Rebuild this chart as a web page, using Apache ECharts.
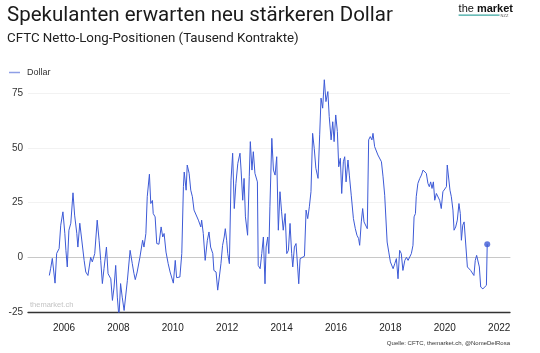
<!DOCTYPE html>
<html>
<head>
<meta charset="utf-8">
<script src="https://cdn.jsdelivr.net/npm/echarts@6/dist/echarts.min.js"></script>
<style>
  html, body { margin: 0; padding: 0; background: #fff; }
  #chart { width: 540px; height: 353px; }
</style>
</head>
<body>
<div id="chart"></div>
<script>
(function () {
    // Dezimaljahre (wöchentliche CFTC-Daten)
    const years = [
        2005.46, 2005.51, 2005.57, 2005.67, 2005.73, 2005.82, 2005.88, 2005.96, 2006.03, 2006.07,
        2006.12, 2006.18, 2006.25, 2006.33, 2006.39, 2006.47, 2006.51, 2006.58, 2006.64, 2006.74,
        2006.80, 2006.88, 2006.98, 2007.04, 2007.13, 2007.22, 2007.29, 2007.35, 2007.41, 2007.47,
        2007.56, 2007.62, 2007.72, 2007.78, 2007.84, 2007.90, 2007.96, 2008.02, 2008.08, 2008.14,
        2008.21, 2008.33, 2008.43, 2008.51, 2008.57, 2008.62, 2008.69, 2008.79, 2008.89, 2008.94,
        2009.01, 2009.06, 2009.14, 2009.19, 2009.25, 2009.28, 2009.35, 2009.41, 2009.49, 2009.57,
        2009.63, 2009.68, 2009.75, 2009.83, 2009.90, 2009.96, 2010.02, 2010.09, 2010.14, 2010.26,
        2010.33, 2010.39, 2010.42, 2010.49, 2010.53, 2010.60, 2010.66, 2010.72, 2010.78, 2010.85,
        2010.94, 2011.03, 2011.06, 2011.12, 2011.19, 2011.27, 2011.33, 2011.39, 2011.47, 2011.51,
        2011.59, 2011.65, 2011.71, 2011.77, 2011.83, 2011.89, 2011.93, 2011.98, 2012.02, 2012.08,
        2012.14, 2012.20, 2012.26, 2012.32, 2012.39, 2012.47, 2012.51, 2012.57, 2012.62, 2012.67,
        2012.75, 2012.81, 2012.85, 2012.91, 2012.96, 2013.02, 2013.11, 2013.14, 2013.21, 2013.27,
        2013.33, 2013.39, 2013.43, 2013.49, 2013.53, 2013.57, 2013.64, 2013.70, 2013.76, 2013.82,
        2013.88, 2013.94, 2014.00, 2014.06, 2014.13, 2014.19, 2014.25, 2014.31, 2014.37, 2014.41,
        2014.47, 2014.53, 2014.59, 2014.63, 2014.68, 2014.74, 2014.84, 2014.90, 2014.96, 2015.02,
        2015.08, 2015.14, 2015.20, 2015.26, 2015.34, 2015.40, 2015.45, 2015.51, 2015.57, 2015.63,
        2015.70, 2015.75, 2015.82, 2015.88, 2015.93, 2015.99, 2016.05, 2016.10, 2016.16, 2016.21,
        2016.27, 2016.32, 2016.37, 2016.44, 2016.49, 2016.56, 2016.64, 2016.71, 2016.77, 2016.83,
        2016.87, 2016.93, 2016.98, 2017.03, 2017.10, 2017.15, 2017.20, 2017.26, 2017.32, 2017.36,
        2017.42, 2017.47, 2017.54, 2017.61, 2017.67, 2017.73, 2017.79, 2017.88, 2017.94, 2018.00,
        2018.10, 2018.16, 2018.22, 2018.28, 2018.34, 2018.40, 2018.46, 2018.53, 2018.59, 2018.65,
        2018.71, 2018.77, 2018.83, 2018.87, 2018.92, 2018.95, 2019.01, 2019.08, 2019.14, 2019.20,
        2019.26, 2019.32, 2019.38, 2019.43, 2019.48, 2019.53, 2019.58, 2019.63, 2019.69, 2019.75,
        2019.81, 2019.87, 2019.93, 2020.00, 2020.06, 2020.09, 2020.14, 2020.19, 2020.24, 2020.30,
        2020.34, 2020.40, 2020.46, 2020.52, 2020.57, 2020.61, 2020.66, 2020.71, 2020.77, 2020.83,
        2020.89, 2020.95, 2021.01, 2021.07, 2021.12, 2021.17, 2021.22, 2021.27, 2021.32, 2021.40,
        2021.47, 2021.53, 2021.56
    ];

    // Netto-Long-Positionen in Tausend Kontrakten
    const dollar = [
        -8.3, -5, -0.5, -11.8, 1.8, 4, 14.7, 20.8, 11, 3.2,
        -4.4, 12.4, 15.6, 29.5, 19.3, 11, 4.7, 15.6, 9.3, -1.4,
        -6.7, -8.3, 0, -2.1, 1.7, 17, 7.8, -1.4, -12, -5.2,
        4.7, -7.5, -9.8, -19.7, -13.6, -3.7, -18.2, -27.4, -12, -18.2,
        -24.3, -10.5, 3.2, -2.9, -7.3, -10.2, -6.7, 0, 7.8, 4.7,
        10.9, 27.7, 38, 24.6, 26, 20, 18.5, 6.3, 6, 13.9,
        9.3, 10.9, 2.4, -2.9, -6.7, -7.5, -11.8, -1.4, -9.3, -9,
        1.7, 32.3, 39, 30.7, 42.2, 38.4, 30.7, 27.7, 21.6, 20.8,
        17, 13.9, 17, 10.9, -1.4, 7.8, 11.6, 4.7, 1.7, -6,
        -6.7, -15, -9, -2.9, 5.5, 9.3, 13.1, 7.8, 1.7, -2.9,
        35.3, 47.6, 22.3, 33.8, 43, 47.6, 39.9, 26.1, 36.1, 18.5,
        10.1, 36.8, 52.9, 39.9, 48.3, 38.4, 34.5, -3.7, -5.2, 1.7,
        9.3, -12.1, 4.7, 9.3, 1.7, 23.1, 54.4, 39.9, 37.6, 46,
        12.4, 30, 20.8, 12.4, 20, 1.7, 3.2, 15.5, 1.7, -4.4,
        4.7, 6.3, -4.4, -12.1, -0.6, 0, 0.5, 21.6, 17.7, 23.1,
        30, 56.7, 49.8, 40.7, 36.1, 56, 72.8, 68.2, 81.2, 71.2,
        75.8, 64.4, 53.7, 62, 52.9, 65.1, 57.5, 41.4, 45.3, 29.2,
        43.7, 46, 34.5, 44.5, 37.6, 28.4, 17.7, 13.1, 10.1, 8.6,
        5.5, 16.2, 22.3, 16.2, 17, 13.1, 53.7, 55.2, 53.7, 56.7,
        50.6, 51.4, 46.8, 46, 43.7, 36.8, 28.4, 7, 2.4, -2.1,
        -5.2, -2.9, -0.6, -9.8, 3.2, 1.7, -6, -1.4, 0, -1.4,
        -1.4, 1.7, 5.5, 18.5, 20, 27.7, 33.8, 36.1, 37.6, 39.9,
        40.7, 38.4, 33.8, 32.3, 34.5, 31.5, 34.5, 26.1, 29.2, 28.4,
        26.1, 22.3, 30, 30.7, 32.3, 42.2, 43, 30.7, 27.7, 21.6,
        12.4, 13.9, 17, 24.6, 20, 7.8, 14.7, 16.2, 17, -4.4,
        -5.2, -6, -6.7, -8.3, -1.4, 0.9, 0, -4.4, -13.6, -14.4,
        -14.4, -12.8, 6
    ];

    const yearLabels = [2006, 2008, 2010, 2012, 2014, 2016, 2018, 2020, 2022];
    const yTicks = [-25, 0, 25, 50, 75];

    const lineColor = '#3d5ad6';
    const series = years.map(function (y, i) { return [y, dollar[i]]; });
    const last = series[series.length - 1];

    let chart = echarts.init(document.getElementById('chart'));

    let option = {
        backgroundColor: '#fff',
        animation: false,
        textStyle: { fontFamily: 'Liberation Sans' },
        title: [
            {
                left: 7,
                top: 5,
                padding: 0,
                text: 'Spekulanten erwarten neu stärkeren Dollar',
                subtext: 'CFTC Netto-Long-Positionen (Tausend Kontrakte)',
                itemGap: 6,
                textStyle: { fontFamily: 'Roboto', fontSize: 20.5, fontWeight: 'normal', color: '#1a1a1a' },
                subtextStyle: { fontFamily: 'Roboto', fontSize: 13.3, color: '#222' }
            }
        ],
        legend: {
            left: 9,
            top: 68,
            padding: 0,
            data: [{ name: 'Dollar', icon: 'rect', itemStyle: { color: '#8e9fe6' } }],
            itemWidth: 11,
            itemHeight: 1.5,
            itemGap: 6,
            textStyle: { fontSize: 9, color: '#333', padding: [0, 0, 0, 2] }
        },
        grid: { left: 28, right: 30, top: 78, bottom: 41 },
        xAxis: [
            {
                type: 'value',
                min: 2004.676,
                max: 2022.397,
                axisLine: { onZero: false, lineStyle: { color: '#333', width: 1.3 } },
                axisTick: { show: false },
                splitLine: { show: false },
                axisLabel: {
                    customValues: yearLabels,
                    margin: 11,
                    fontSize: 10,
                    color: '#222',
                    formatter: function (v) { return String(v); }
                }
            },
            {
                // nur als graue Nulllinie
                type: 'value',
                position: 'top',
                min: 2004.676,
                max: 2022.397,
                axisLine: { onZero: true, lineStyle: { color: '#c8c8c8', width: 1 } },
                axisTick: { show: false },
                axisLabel: { show: false },
                splitLine: { show: false }
            }
        ],
        yAxis: {
            type: 'value',
            min: -25,
            max: 82,
            interval: 25,
            axisLine: { show: false },
            axisTick: { show: false },
            axisLabel: {
                customValues: yTicks,
                margin: 5,
                fontSize: 10,
                color: '#333'
            },
            splitLine: { showMaxLine: false, lineStyle: { color: '#f2f2f2' } }
        },
        series: [
            {
                name: 'Dollar',
                type: 'line',
                data: series,
                symbol: 'none',
                z: 3,
                lineStyle: { color: lineColor, width: 1 },
                itemStyle: { color: lineColor }
            },
            {
                name: 'Letzter Wert',
                type: 'scatter',
                data: [last],
                symbolSize: 6,
                z: 4,
                itemStyle: { color: lineColor },
                silent: true
            }
        ],
        graphic: [
            {
                type: 'text',
                left: 30,
                top: 301,
                style: { text: 'themarket.ch', fontSize: 7.5, fill: '#c4c4c4', fontFamily: 'Liberation Sans' }
            },
            {
                type: 'text',
                right: 30,
                top: 340,
                style: { text: 'Quelle: CFTC, themarket.ch, @NomeDelRosa', fontSize: 6, fill: '#333', fontFamily: 'Liberation Sans' }
            },
            {
                type: 'group',
                right: 27,
                top: 3,
                children: [
                    {
                        type: 'text',
                        left: 0,
                        top: 0,
                        style: {
                            text: '{a|the }{b|market}',
                            rich: {
                                a: { fontSize: 11, fontFamily: 'Liberation Sans', fill: '#111' },
                                b: { fontSize: 11, fontFamily: 'Liberation Sans', fontWeight: 'bold', fill: '#111' }
                            }
                        }
                    },
                    {
                        type: 'rect',
                        shape: { x: 0, y: 11.5, width: 41, height: 1.2 },
                        style: { fill: '#3aa6a0' }
                    },
                    {
                        type: 'text',
                        left: 42,
                        top: 11,
                        style: { text: 'NZZ', fontSize: 4, fill: '#555', fontFamily: 'Liberation Sans' }
                    }
                ]
            }
        ]
    };

    chart.setOption(option);
})();
</script>
</body>
</html>
